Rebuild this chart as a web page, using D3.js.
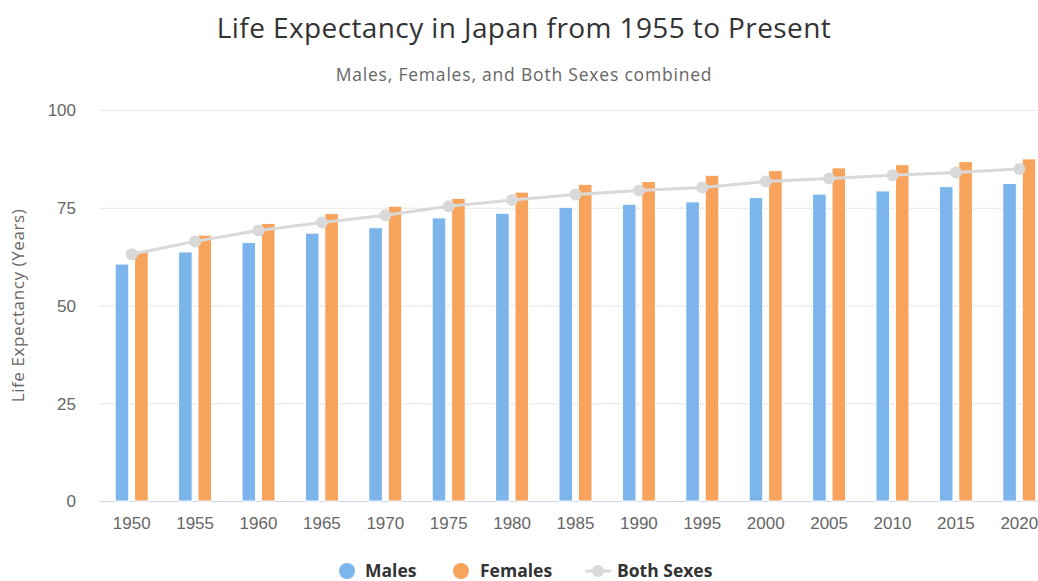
<!DOCTYPE html>
<html>
<head>
<meta charset="utf-8">
<script src="https://cdn.jsdelivr.net/npm/d3@7"></script>
<style>
  html, body { margin: 0; padding: 0; background: #fff; overflow: hidden; }
  svg { display: block; font-family: "Open Sans", sans-serif; }
</style>
</head>
<body>
<svg id="chart" width="1038" height="581"></svg>
<script>
const years = ['1950', '1955', '1960', '1965', '1970', '1975', '1980', '1985',
  '1990', '1995', '2000', '2005', '2010', '2015', '2020'];
const males = [60.6, 63.7, 66.1, 68.5, 69.9, 72.4, 73.6, 75.1, 75.9, 76.5, 77.6, 78.5, 79.3, 80.4, 81.2];
const females = [63.9, 68.0, 71.0, 73.5, 75.4, 77.4, 79.0, 81.0, 81.7, 83.3, 84.5, 85.2, 86.0, 86.8, 87.5];
const both = [63.1, 66.4, 69.2, 71.2, 73.1, 75.4, 77.0, 78.4, 79.4, 80.2, 81.7, 82.5, 83.3, 84.0, 84.9];
const yTicks = [0, 25, 50, 75, 100];

const colors = { Males: '#7cb5ec', Females: '#f7a35c', Both: '#d9d9d9' };

let svg = d3.select('#chart');
let plotLeft = 100, plotTop = 110, plotBottom = 501;
let step = 63.4;

let x = d3.scaleBand()
  .domain(years)
  .range([plotLeft, plotLeft + step * years.length]);

let xSub = d3.scaleBand()
  .domain(['Males', 'Females'])
  .range([-16.5, 16.5])
  .paddingInner(0.3);

let y = d3.scaleLinear().domain([0, 100]).range([plotBottom, plotTop]);

// titles
svg.append('text')
  .attr('x', 524).attr('y', 38)
  .attr('text-anchor', 'middle')
  .style('font-size', '28px')
  .style('letter-spacing', '0.4px')
  .style('fill', '#333')
  .text('Life Expectancy in Japan from 1955 to Present');

svg.append('text')
  .attr('x', 524).attr('y', 81)
  .attr('text-anchor', 'middle')
  .style('font-size', '17.5px')
  .style('letter-spacing', '0.8px')
  .style('fill', '#666')
  .text('Males, Females, and Both Sexes combined');

// grid + y labels
let yAxis = svg.append('g')
  .attr('transform', `translate(${plotLeft},0)`)
  .call(d3.axisLeft(y).tickValues(yTicks).tickSize(-(1038 - plotLeft)).tickPadding(24));
yAxis.select('.domain').remove();
yAxis.selectAll('line').attr('stroke', '#e6e6e6');
yAxis.selectAll('text')
  .style('font-size', '17px')
  .style('fill', '#666')
  .attr('dy', '0.35em');

svg.append('text')
  .attr('transform', `translate(24,${(plotTop + plotBottom) / 2}) rotate(-90)`)
  .attr('text-anchor', 'middle')
  .style('font-size', '17px')
  .style('letter-spacing', '0.6px')
  .style('fill', '#666')
  .text('Life Expectancy (Years)');

// x axis
let xAxis = svg.append('g')
  .attr('transform', `translate(0,${plotBottom})`)
  .call(d3.axisBottom(x).tickSize(0).tickPadding(16));
xAxis.select('.domain').attr('stroke', '#ccd6eb').attr('d', `M${plotLeft},0.5H1038`);
xAxis.selectAll('text')
  .style('font-size', '17px')
  .style('fill', '#666');

// bars
let series = [
  { name: 'Males', values: males },
  { name: 'Females', values: females }
];
series.forEach(s => {
  svg.append('g')
    .selectAll('rect')
    .data(s.values)
    .enter()
    .append('rect')
    .attr('x', (d, i) => x(years[i]) + x.bandwidth() / 2 + xSub(s.name))
    .attr('y', d => y(d))
    .attr('width', xSub.bandwidth())
    .attr('height', d => plotBottom - y(d))
    .attr('fill', colors[s.name])
    .attr('stroke', '#fff')
    .attr('stroke-width', 1);
});

// both sexes line
let line = d3.line()
  .x((d, i) => x(years[i]) + x.bandwidth() / 2)
  .y(d => y(d));

svg.append('path')
  .datum(both)
  .attr('d', line)
  .attr('fill', 'none')
  .attr('stroke', colors.Both)
  .attr('stroke-width', 3);

svg.append('g')
  .selectAll('circle')
  .data(both)
  .enter()
  .append('circle')
  .attr('cx', (d, i) => x(years[i]) + x.bandwidth() / 2)
  .attr('cy', d => y(d))
  .attr('r', 6)
  .attr('fill', colors.Both);

// legend
let legend = svg.append('g').style('font-size', '17.5px').style('font-weight', 'bold');
let legendY = 571;

legend.append('circle').attr('cx', 347).attr('cy', legendY).attr('r', 8).attr('fill', colors.Males);
legend.append('text').attr('x', 365).attr('y', legendY).attr('dy', '0.35em').style('fill', '#333').text('Males');

legend.append('circle').attr('cx', 461).attr('cy', legendY).attr('r', 8).attr('fill', colors.Females);
legend.append('text').attr('x', 480).attr('y', legendY).attr('dy', '0.35em').style('fill', '#333').text('Females');

legend.append('line').attr('x1', 585).attr('x2', 611).attr('y1', legendY).attr('y2', legendY)
  .attr('stroke', colors.Both).attr('stroke-width', 3);
legend.append('circle').attr('cx', 598).attr('cy', legendY).attr('r', 6).attr('fill', colors.Both);
legend.append('text').attr('x', 617).attr('y', legendY).attr('dy', '0.35em').style('fill', '#333').text('Both Sexes');
</script>
</body>
</html>
